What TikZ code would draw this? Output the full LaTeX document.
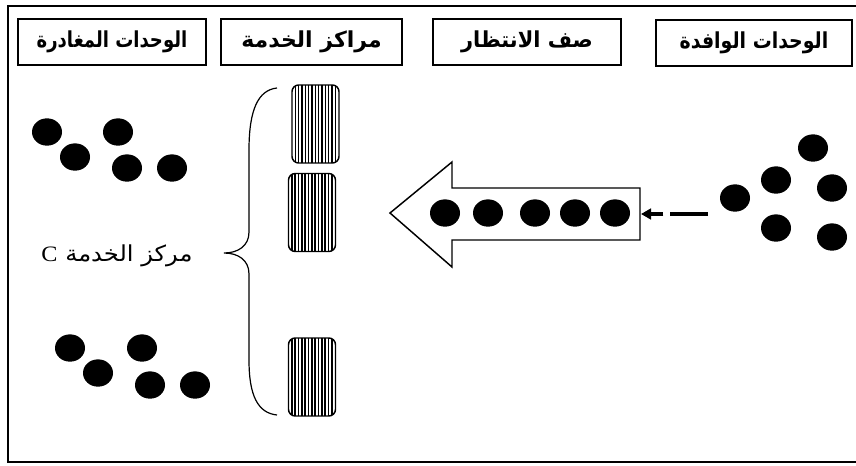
\documentclass[tikz,border=0pt]{standalone}
\usepackage{fontspec}
\setmainfont{Liberation Serif}
\newfontfamily\arabicfont[Script=Arabic]{DejaVu Sans}
\TeXXeTstate=1
\usetikzlibrary{shapes.geometric,arrows.meta}
\tikzset{
  hdr/.style={draw, line width=1.1pt, minimum height=34.5pt, inner sep=0pt,
    font=\arabicfont\bfseries\fontsize{16.5}{19}\selectfont},
  dot/.style={ellipse, fill=black, minimum width=22.5pt, minimum height=20.5pt, inner sep=0pt},
  srv/.style={draw, line width=1.1pt, rounded corners=5pt, minimum width=35.25pt,
    minimum height=58.5pt, inner sep=0pt,
    path picture={\foreach \k in {1,...,13}{\draw[line width=1.2pt]
      ([xshift=\k*2.5pt]path picture bounding box.south west) --
      ([xshift=\k*2.5pt]path picture bounding box.north west);}}},
  frame/.style={line width=1.1pt}
}
\begin{document}
\begin{tikzpicture}[x=0.75pt,y=-0.75pt]
\path[use as bounding box] (0,0) rectangle (856,465);
\clip (0,0) rectangle (856,465);
\fill[white] (0,0) rectangle (856,465);
% outer frame (right side falls outside the picture)
\draw[frame] (875,6) -- (8,6) -- (8,462) -- (875,462);
% header boxes
\node[hdr, minimum width=141pt] (h1) at (112,42) {\scalebox{0.82}[1]{\beginR الوحدات المغادرة\endR}};
\node[hdr, minimum width=135.75pt] (h2) at (311.5,42) {\scalebox{1.0}[1]{\beginR مراكز الخدمة\endR}};
\node[hdr, minimum width=141pt] (h3) at (527,42) {\scalebox{0.95}[1]{\beginR صف الانتظار\endR}};
\node[hdr, minimum width=147pt] (h4) at (754,43) {\scalebox{0.86}[1]{\beginR الوحدات الوافدة\endR}};
% service centres
\node[srv] (s1) at (315.5,124) {};
\node[srv] (s2) at (312,212.5) {};
\node[srv] (s3) at (312,377) {};
% brace
\draw[line width=0.9pt] (277,88) .. controls (258,90) and (249,110) .. (249,150)
  -- (249,232) .. controls (249,246) and (238,253) .. (224,253)
  .. controls (238,253) and (249,260) .. (249,274)
  -- (249,360) .. controls (249,396) and (258,413) .. (277,415);
\node[font=\arabicfont\fontsize{16.5}{19}\selectfont] (lbl) at (117,256)
  {\scalebox{1.1}[1]{\beginR مركز الخدمة {\rmfamily C}\endR}};
% big queue arrow
\draw[line width=1.1pt, fill=white] (640,188) -- (452,188) -- (452,162) -- (390,213)
  -- (452,267) -- (452,240) -- (640,240) -- cycle;
\coordinate (qend) at (641,214);
\node[dot] (q1) at (445,213) {};
\node[dot] (q2) at (488,213) {};
\node[dot] (q3) at (535,213) {};
\node[dot] (q4) at (575,213) {};
\node[dot] (q5) at (615,213) {};
% arriving units
\node[dot] (a1) at (735,198) {};
\node[dot] (a2) at (776,180) {};
\node[dot] (a3) at (813,148) {};
\node[dot] (a4) at (832,188) {};
\node[dot] (a5) at (776,228) {};
\node[dot] (a6) at (832,237) {};
\coordinate (src) at (708,214);
\draw[line width=2.4pt, dash pattern=on 28.5pt off 5pt on 40pt,
  -{Triangle[length=7.5pt,width=8pt]}] (src) -- (qend);
% departing units (top)
\node[dot] (d1) at (47,132) {};
\node[dot] (d2) at (118,132) {};
\node[dot] (d3) at (75,157) {};
\node[dot] (d4) at (127,168) {};
\node[dot] (d5) at (172,168) {};
% departing units (bottom)
\node[dot] (e1) at (70,348) {};
\node[dot] (e2) at (142,348) {};
\node[dot] (e3) at (98,373) {};
\node[dot] (e4) at (150,385) {};
\node[dot] (e5) at (195,385) {};
\end{tikzpicture}
\end{document}
